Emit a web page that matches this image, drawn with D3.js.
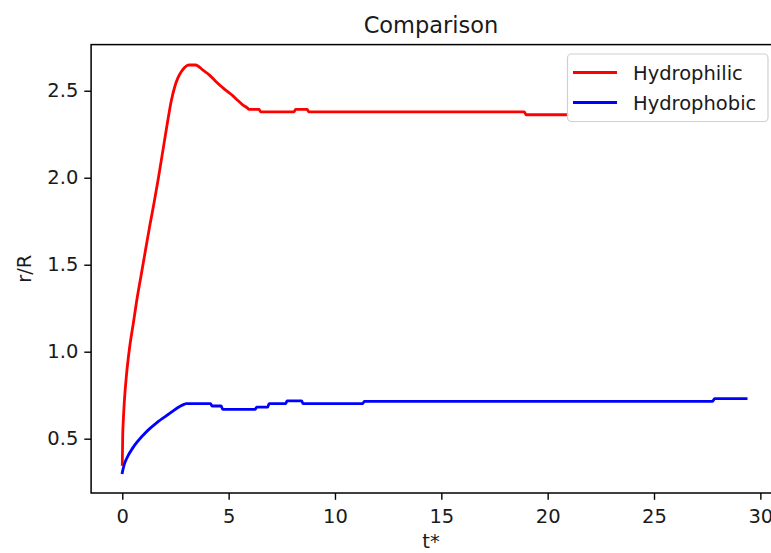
<!DOCTYPE html>
<html><head><meta charset="utf-8">
<script src="https://cdn.jsdelivr.net/npm/d3@7"></script>
<style>body{margin:0;background:#fff;} svg{display:block;} text{font-family:"DejaVu Sans",sans-serif;fill:#1a1a1a;}</style>
</head><body>
<svg id="chart" width="771" height="553"></svg>
<script>
const title = "Comparison";
const xLabel = "t*";
const yLabel = "r/R";
const seriesNames = ["Hydrophilic", "Hydrophobic"];
const seriesColors = ["#ff0000", "#0000ff"];
const xTicks = [0, 5, 10, 15, 20, 25, 30];
const yTicks = [0.5, 1.0, 1.5, 2.0, 2.5];

const hydrophilicT = [0, 0.02, 0.05, 0.1, 0.2, 0.35, 0.51, 0.7, 0.9, 1.1, 1.3, 1.5, 1.7, 1.9, 2.1, 2.3, 2.46, 2.62, 2.78, 2.92, 3.05, 3.15, 3.45, 3.79, 4.1, 4.41, 4.75, 5.03, 5.19, 5.45, 5.65, 5.89, 5.95, 6.43, 6.5, 8.07, 8.15, 8.69, 8.77, 18.9, 18.98, 20.9];
const hydrophilicR = [0.353, 0.515, 0.61, 0.72, 0.87, 1.03, 1.157, 1.31, 1.45, 1.59, 1.73, 1.86, 2.0, 2.15, 2.3, 2.44, 2.52, 2.575, 2.61, 2.632, 2.645, 2.648, 2.648, 2.618, 2.59, 2.552, 2.515, 2.488, 2.472, 2.442, 2.42, 2.40, 2.393, 2.393, 2.379, 2.379, 2.393, 2.393, 2.379, 2.379, 2.362, 2.362];

const hydrophobicT = [0, 0.1, 0.2, 0.51, 0.98, 1.29, 1.6, 2.23, 2.7, 2.93, 3.0, 4.15, 4.22, 4.65, 4.72, 6.25, 6.32, 6.84, 6.9, 7.68, 7.75, 8.43, 8.5, 11.3, 11.38, 27.75, 27.85, 29.33];
const hydrophobicR = [0.305, 0.355, 0.385, 0.45, 0.52, 0.558, 0.59, 0.645, 0.685, 0.699, 0.701, 0.701, 0.688, 0.688, 0.669, 0.669, 0.682, 0.682, 0.701, 0.701, 0.717, 0.717, 0.701, 0.701, 0.715, 0.715, 0.730, 0.730];

const series = [
  {name: seriesNames[0], color: seriesColors[0], pts: hydrophilicT.map((t, i) => [t, hydrophilicR[i]])},
  {name: seriesNames[1], color: seriesColors[1], pts: hydrophobicT.map((t, i) => [t, hydrophobicR[i]])}
];

const svg = d3.select("#chart");
const pLeft = 91.1, pRight = 777.3, pTop = 44.6, pBottom = 493;
const fs = 19.5;

const allPts = series.flatMap(s => s.pts);
const xExt = d3.extent(allPts, d => d[0]);
const yExt = d3.extent(allPts, d => d[1]);
const xm = (xExt[1] - xExt[0]) * 0.05, ym = (yExt[1] - yExt[0]) * 0.05;
const x = d3.scaleLinear().domain([xExt[0] - xm, xExt[1] + xm]).range([pLeft, pRight]);
const y = d3.scaleLinear().domain([yExt[0] - ym, yExt[1] + ym]).range([pBottom, pTop]);

const line = d3.line().x(d => x(d[0])).y(d => y(d[1])).curve(d3.curveMonotoneX);
const g = svg.append("g");
g.append("defs").append("clipPath").attr("id", "clip")
  .append("rect").attr("x", pLeft).attr("y", pTop).attr("width", pRight - pLeft).attr("height", pBottom - pTop);

series.forEach(s => {
  g.append("path").datum(s.pts).attr("d", line)
    .attr("fill", "none").attr("stroke", s.color).attr("stroke-width", 2.8)
    .attr("stroke-linejoin", "round").attr("stroke-linecap", "square")
    .attr("clip-path", "url(#clip)");
});

// axes
const xAxis = d3.axisBottom(x).tickValues(xTicks).tickSize(6.8).tickPadding(5).tickFormat(d3.format("d"));
const yAxis = d3.axisLeft(y).tickValues(yTicks).tickSize(6.8).tickPadding(6).tickFormat(d3.format(".1f"));
const gx = svg.append("g").attr("transform", `translate(0,${pBottom})`).call(xAxis);
const gy = svg.append("g").attr("transform", `translate(${pLeft},0)`).call(yAxis);
[gx, gy].forEach(a => {
  a.select(".domain").remove();
  a.selectAll("line").attr("stroke", "#000").attr("stroke-width", 1.4);
  a.selectAll("text").style("font-size", fs + "px").attr("fill", "#1a1a1a");
});
gx.selectAll("text").attr("dy", "0.95em");

// spines
svg.append("rect").attr("x", pLeft).attr("y", pTop).attr("width", pRight - pLeft).attr("height", pBottom - pTop)
  .attr("fill", "none").attr("stroke", "#000").attr("stroke-width", 1.5);

// title & labels
svg.append("text").attr("x", 431).attr("y", 33).attr("text-anchor", "middle")
  .style("font-size", "22.5px").text(title);
svg.append("text").attr("x", 431).attr("y", 548).attr("text-anchor", "middle")
  .style("font-size", fs + "px").text(xLabel);
svg.append("text").attr("transform", `translate(31,${(pTop + pBottom) / 2}) rotate(-90)`).attr("text-anchor", "middle")
  .style("font-size", fs + "px").text(yLabel);

// legend
const lg = svg.append("g");
lg.append("rect").attr("x", 567.5).attr("y", 54).attr("width", 200.5).attr("height", 67.5)
  .attr("rx", 4).attr("fill", "#fff").attr("fill-opacity", 0.8).attr("stroke", "#d0d0d0").attr("stroke-width", 1.2);
series.forEach((s, i) => {
  const yy = 72.5 + i * 30;
  lg.append("line").attr("x1", 573).attr("x2", 617).attr("y1", yy).attr("y2", yy)
    .attr("stroke", s.color).attr("stroke-width", 2.8);
  lg.append("text").attr("x", 633).attr("y", yy).attr("dy", "0.36em")
    .style("font-size", fs + "px").text(s.name);
});
</script>
</body></html>
